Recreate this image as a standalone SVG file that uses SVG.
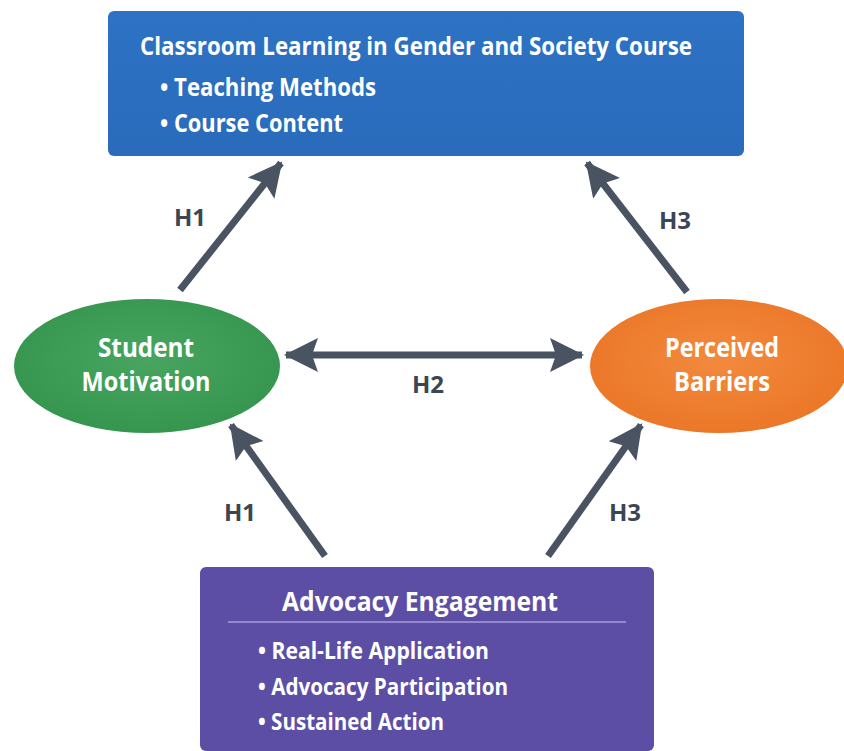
<svg xmlns="http://www.w3.org/2000/svg" width="844" height="751" viewBox="0 0 844 751">
<defs>
<marker id="ah" markerUnits="userSpaceOnUse" markerWidth="38" markerHeight="38" viewBox="0 0 38 38" refX="32" refY="19" orient="auto-start-reverse">
<path d="M0,2 L34,19 L0,36 L6,19 Z" fill="#4a5362"/>
</marker>
<linearGradient id="gb" x1="0" y1="0" x2="0" y2="1"><stop offset="0" stop-color="#2d72c4"/><stop offset="1" stop-color="#2a6bbb"/></linearGradient>
<radialGradient id="gg" cx="0.5" cy="0.45" r="0.6"><stop offset="0" stop-color="#47a560"/><stop offset="1" stop-color="#34944d"/></radialGradient>
<radialGradient id="go" cx="0.5" cy="0.45" r="0.6"><stop offset="0" stop-color="#f28a3e"/><stop offset="1" stop-color="#eb7526"/></radialGradient>
</defs>
<style>
.t{font-family:"Open Sans","Noto Sans","Liberation Sans",sans-serif;fill:#ffffff;font-weight:700}
.lbl{font-family:"Open Sans","Noto Sans","Liberation Sans",sans-serif;fill:#3c4554;font-weight:700;font-size:24px}
.c{stroke:#4a5362;stroke-width:7;fill:none;marker-end:url(#ah)}
</style>
<rect width="844" height="751" fill="#ffffff"/>
<g id="classroom">
<rect x="108" y="11" width="636" height="145" rx="6" fill="url(#gb)"/>
<text class="t" x="140" y="55" font-size="25" textLength="552" lengthAdjust="spacingAndGlyphs">Classroom Learning in Gender and Society Course</text>
<text class="t" x="160" y="96" font-size="25" font-weight="600" textLength="216" lengthAdjust="spacingAndGlyphs">• Teaching Methods</text>
<text class="t" x="160" y="132" font-size="25" font-weight="600" textLength="183" lengthAdjust="spacingAndGlyphs">• Course Content</text>
</g>
<g id="motivation">
<ellipse cx="147" cy="366" rx="133" ry="67" fill="url(#gg)"/>
<text class="t" x="146" y="357" font-size="26" text-anchor="middle" textLength="96" lengthAdjust="spacingAndGlyphs">Student</text>
<text class="t" x="146" y="391" font-size="26" text-anchor="middle" textLength="129" lengthAdjust="spacingAndGlyphs">Motivation</text>
</g>
<g id="barriers">
<ellipse cx="719" cy="366" rx="129" ry="67" fill="url(#go)"/>
<text class="t" x="722" y="357" font-size="26" text-anchor="middle" textLength="114" lengthAdjust="spacingAndGlyphs">Perceived</text>
<text class="t" x="722" y="391" font-size="26" text-anchor="middle" textLength="96" lengthAdjust="spacingAndGlyphs">Barriers</text>
</g>
<g id="advocacy">
<rect x="200" y="567" width="454" height="184" rx="6" fill="#5d4ea5"/>
<text class="t" x="420" y="611" font-size="26" text-anchor="middle" textLength="276" lengthAdjust="spacingAndGlyphs">Advocacy Engagement</text>
<line x1="228" y1="622" x2="626" y2="622" stroke="#a79ee0" stroke-width="1.5"/>
<text class="t" x="258" y="659" font-size="23" textLength="231" lengthAdjust="spacingAndGlyphs">• Real-Life Application</text>
<text class="t" x="258" y="695" font-size="23" textLength="250" lengthAdjust="spacingAndGlyphs">• Advocacy Participation</text>
<text class="t" x="258" y="730" font-size="23" textLength="186" lengthAdjust="spacingAndGlyphs">• Sustained Action</text>
</g>
<g id="connectors">
<line class="c" x1="180" y1="290" x2="281" y2="163"/>
<line class="c" x1="687" y1="292" x2="587" y2="163"/>
<line class="c" x1="325" y1="556" x2="231" y2="425"/>
<line class="c" x1="548" y1="556" x2="641" y2="425"/>
<line class="c" x1="286" y1="355" x2="582" y2="355" style="marker-start:url(#ah)"/>
<text class="lbl" x="190" y="226" text-anchor="middle">H1</text>
<text class="lbl" x="675" y="229" text-anchor="middle">H3</text>
<text class="lbl" x="428" y="393" text-anchor="middle">H2</text>
<text class="lbl" x="240" y="521" text-anchor="middle">H1</text>
<text class="lbl" x="625" y="521" text-anchor="middle">H3</text>
</g>
</svg>
